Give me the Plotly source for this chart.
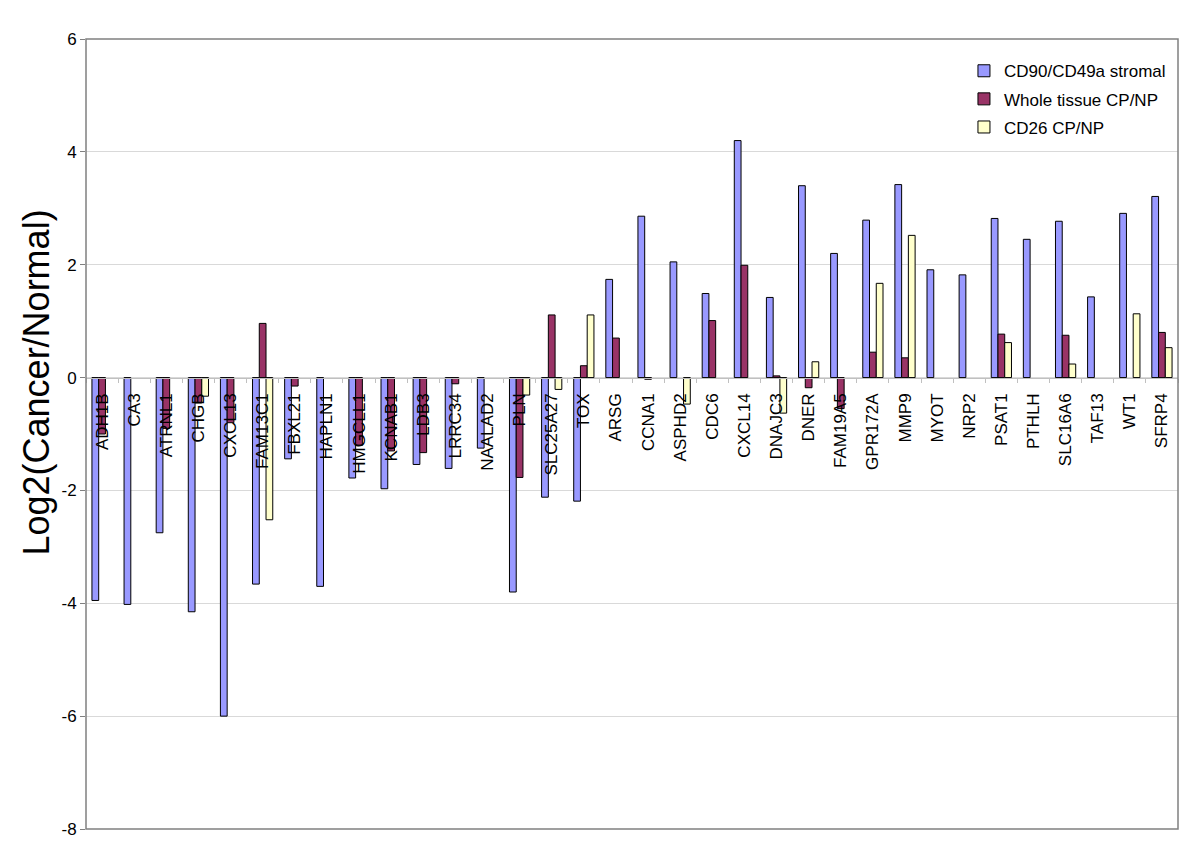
import plotly.graph_objects as go

genes = ["ADH1B", "CA3", "ATRNL1", "CHGB", "CXCL13", "FAM13C1", "FBXL21", "HAPLN1",
         "HMGCLL1", "KCNAB1", "LDB3", "LRRC34", "NAALAD2", "PLN", "SLC25A27", "TOX",
         "ARSG", "CCNA1", "ASPHD2", "CDC6", "CXCL14", "DNAJC3", "DNER", "FAM19A5",
         "GPR172A", "MMP9", "MYOT", "NRP2", "PSAT1", "PTHLH", "SLC16A6", "TAF13",
         "WT1", "SFRP4"]

stromal = [-3.95, -4.02, -2.75, -4.15, -6.0, -3.66, -1.44, -3.70,
           -1.78, -1.97, -1.54, -1.61, -1.25, -3.80, -2.12, -2.19,
           1.74, 2.86, 2.05, 1.49, 4.20, 1.42, 3.40, 2.20,
           2.79, 3.42, 1.91, 1.82, 2.82, 2.45, 2.77, 1.43,
           2.91, 3.21]

whole_tissue = [-1.0, None, -0.9, -0.45, -0.8, 0.96, -0.15, None,
                -1.2, -1.3, -1.33, -0.11, None, -1.77, 1.11, 0.21,
                0.70, -0.03, None, 1.01, 1.99, 0.03, -0.18, -0.55,
                0.45, 0.35, None, None, 0.77, None, 0.75, None,
                None, 0.80]

cd26 = [None, None, None, -0.33, None, -2.52, None, None,
        None, None, None, None, None, -0.31, -0.21, 1.11,
        None, None, -0.47, None, None, -0.63, 0.28, None,
        1.67, 2.52, None, None, 0.62, None, 0.24, None,
        1.13, 0.53]

series_names = ["CD90/CD49a stromal", "Whole tissue CP/NP", "CD26 CP/NP"]
series_colors = ["#9999FF", "#993366", "#FFFFCC"]
y_ticks = [-8, -6, -4, -2, 0, 2, 4, 6]
y_title = "Log2(Cancer/Normal)"

FONT = "Liberation Sans, Arial, sans-serif"

fig = go.Figure()
for name, vals, col in zip(series_names, [stromal, whole_tissue, cd26], series_colors):
    fig.add_trace(go.Bar(
        x=genes, y=vals, name=name, legendgroup=name,
        marker=dict(color=col, line=dict(color="#000000", width=1)),
    ))

ymin, ymax = -8, 6
fig.update_layout(
    width=1200, height=847,
    paper_bgcolor="white", plot_bgcolor="white",
    margin=dict(l=78, r=30, t=31, b=26, autoexpand=False),
    barmode="group", bargap=0.37, bargroupgap=0,
    font=dict(family=FONT, size=17, color="black"),
    showlegend=True,
    legend=dict(x=0.804, y=0.982, xanchor="left", yanchor="top",
                bgcolor="rgba(0,0,0,0)", font=dict(size=17, family=FONT),
                tracegroupgap=3, traceorder="grouped"),
    xaxis=dict(
        type="category", anchor="free", position=(0 - ymin) / (ymax - ymin),
        showline=True, linecolor="#C0C0C0", linewidth=1,
        ticks="outside", tickson="boundaries", ticklen=4, tickcolor="#C0C0C0",
        tickangle=-90, ticklabelstandoff=8, automargin=False,
        tickfont=dict(size=17, family=FONT, color="black"),
        showgrid=False, zeroline=False,
    ),
    yaxis=dict(
        range=[ymin, ymax], tickvals=y_ticks, ticktext=[str(v) for v in y_ticks],
        showgrid=True, gridcolor="#D9D9D9", gridwidth=1, zeroline=False,
        ticks="outside", ticklen=5, tickcolor="#808080", automargin=False,
        tickfont=dict(size=17, family=FONT, color="black"),
        showline=False,
    ),
)

fig.add_annotation(text=y_title, xref="paper", yref="paper",
                   x=-0.045, y=0.565, xanchor="center", yanchor="middle",
                   textangle=-90, showarrow=False,
                   font=dict(size=36, family=FONT, color="black"))

fig.add_shape(type="rect", xref="paper", yref="paper", x0=0, x1=1, y0=0, y1=1,
              line=dict(color="#808080", width=1.5), layer="above")

fig.write_html("out.html")
